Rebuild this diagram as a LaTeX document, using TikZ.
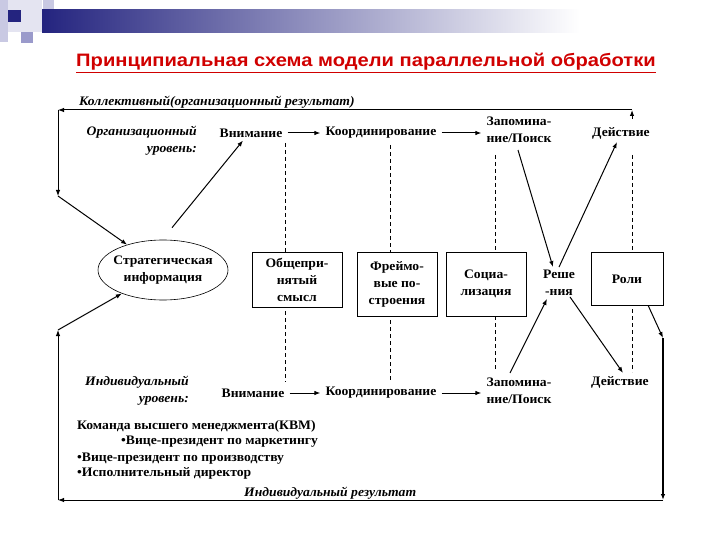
\documentclass[tikz,border=0pt]{standalone}
\usepackage{fontspec}
\setmainfont{Liberation Serif}[FakeStretch=1.05]
\newfontfamily\titlefont{Liberation Sans}[FakeStretch=1.12]
\usetikzlibrary{arrows.meta,shapes.geometric}
\definecolor{navy}{HTML}{24247F}
\definecolor{lav}{HTML}{C9C9E3}
\definecolor{lavm}{HTML}{9A9ACB}
\definecolor{titlered}{HTML}{D00000}
\begin{document}
\begin{tikzpicture}[x=1pt,y=-1pt,
 txt/.style={font=\fontsize{13}{17}\selectfont\bfseries, inner sep=1pt, align=center},
 itxt/.style={font=\fontsize{13}{17}\selectfont\bfseries\itshape, inner sep=1pt},
 boxn/.style={txt, draw, fill=white, line width=0.6pt},
 arr/.style={-{Latex[length=6pt,width=4.5pt]}, line width=1pt},
 harr/.style={arr, shorten <=4pt, shorten >=4pt},
 guide/.style={dash pattern=on 4pt off 3pt, line width=0.6pt}
]
\useasboundingbox (0,0) rectangle (720,540);
% decoration
\fill[lav!50] (0,0) rectangle (42,32);
\fill[lav] (0,0) rectangle (8,42);
\fill[lav] (43,0) rectangle (54,20);
\fill[lavm] (21,32) rectangle (33,43);
\shade[left color=navy, right color=white] (42,10) rectangle (580,33);
\fill[navy] (8,10) rectangle (21,22);

\node[font=\titlefont\fontsize{18}{20}\selectfont\bfseries, text=titlered, inner sep=0] (title) at (366,63)
  {\underline{Принципиальная схема модели параллельной обработки}};

% guide lines
\coordinate (d1t) at (285,143); \coordinate (d1b) at (285,382);
\coordinate (d2t) at (390,145); \coordinate (d2b) at (390,382);
\coordinate (d3t) at (495,155); \coordinate (d3b) at (495,370);
\coordinate (d4t) at (632,155); \coordinate (d4b) at (632,372);
\draw[guide] (d1t) -- (d1b);
\draw[guide] (d2t) -- (d2b);
\draw[guide] (d3t) -- (d3b);
\draw[guide] (d4t) -- (d4b);

\node[itxt, anchor=base west] (coll) at (78,106) {Коллективный(организационный результат)};
\node[itxt, align=right, anchor=east] (orglab) at (198,141) {Организационный\\уровень:};
\node[txt] (att1) at (251,133) {Внимание};
\node[txt] (coord1) at (381,133) {Координирование};
\node[txt] (mem1) at (519,130) {Запомина-\\ние/Поиск};
\node[txt] (act1) at (621,133) {Действие};

\node[txt, ellipse, draw, fill=white, line width=0.6pt, minimum width=130, minimum height=60, inner xsep=-13pt, inner ysep=0pt] (strat) at (163,270) {Стратегическая\\информация};
\node[boxn, minimum width=90, minimum height=55] (box1) at (297,280) {Общепри-\\нятый\\смысл};
\node[boxn, minimum width=80, minimum height=64] (box2) at (397,284) {Фреймо-\\вые по-\\строения};
\node[boxn, minimum width=80, minimum height=64] (box3) at (486,284) {Социа-\\лизация};
\node[txt] (dec) at (559,283) {Реше\\-ния};
\node[boxn, minimum width=72, minimum height=53] (box4) at (627,279) {Роли};

\node[itxt, align=right, anchor=east] (indlab) at (190,391) {Индивидуальный\\уровень:};
\node[txt] (att2) at (253,393) {Внимание};
\node[txt] (coord2) at (381,393) {Координирование};
\node[txt] (mem2) at (519,391) {Запомина-\\ние/Поиск};
\node[txt] (act2) at (620,382) {Действие};

\node[txt, anchor=base west] (kvm) at (76,429) {Команда высшего менеджмента(КВМ)};
\node[txt, anchor=base west] (vp1) at (120,444) {•Вице-президент по маркетингу};
\node[txt, anchor=base west] (vp2) at (76,461) {•Вице-президент по производству};
\node[txt, anchor=base west] (ceo) at (76,476) {•Исполнительный директор};
\node[itxt, anchor=base west] (indres) at (243,496) {Индивидуальный результат};

% horizontal arrows
\draw[harr] (att1) -- (coord1);
\draw[harr] (coord1) -- (mem1.west |- coord1);
\draw[harr] (att2) -- (coord2);
\draw[harr] (coord2) -- (mem2.west |- coord2);

% loops
\coordinate (trb) at (632,119); \coordinate (tr) at (632,110);
\coordinate (tl) at (58,110); \coordinate (lm) at (58,196);
\coordinate (lb) at (58,330); \coordinate (bl) at (58,500);
\coordinate (br) at (663,500); \coordinate (rv) at (663,338);
\draw[arr] (trb) -- (tr);
\draw[arr] (tr) -- (tl);
\draw[arr] (tl) -- (lm);
\draw[arr] (lm) -- (strat);
\draw[arr] (bl) -- (lb);
\draw[arr] (lb) -- (strat);
\draw[arr] (br) -- (bl);
\draw[arr, line width=2pt] (rv) -- (br);
\draw[arr] ([xshift=-15pt]box4.south east) -- (rv);

% diagonal arrows
\draw[arr] ([xshift=9pt,yshift=12pt]strat.north) -- ([xshift=-8pt,yshift=-2pt]att1.south);
\draw[arr] ([xshift=-1pt,yshift=-6pt]mem1.south) -- ([xshift=-6pt,yshift=2pt]dec.north);
\draw[arr] ([yshift=2pt]dec.north) -- ([xshift=-4pt,yshift=-2pt]act1.south);
\draw[arr] ([xshift=-9pt,yshift=4pt]mem2.north) -- ([xshift=-12pt,yshift=-2pt]dec.south);
\draw[arr] ([xshift=11pt]dec.south) -- ([xshift=3pt,yshift=2pt]act2.north);
\end{tikzpicture}
\end{document}
